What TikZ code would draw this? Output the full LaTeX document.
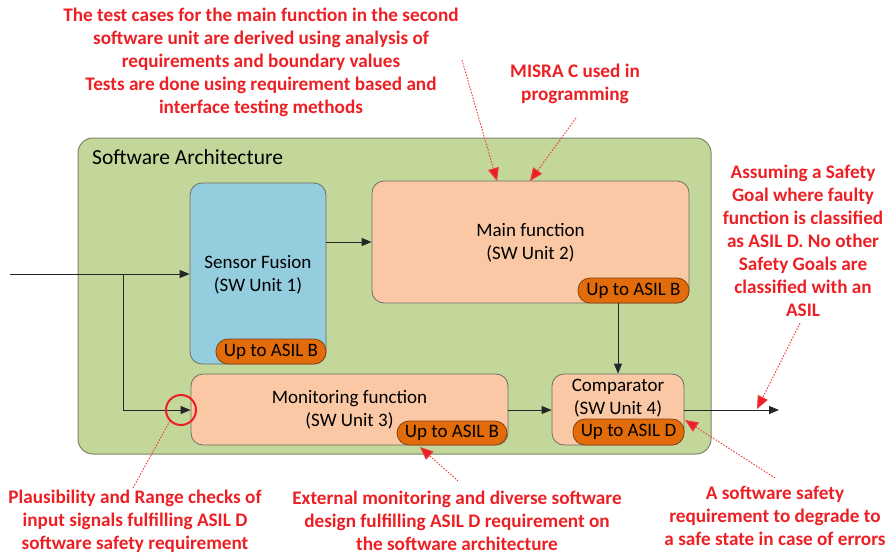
\documentclass[tikz,border=0pt]{standalone}
\usepackage{fontspec}
\setmainfont{Carlito}
\usetikzlibrary{arrows.meta}
\definecolor{cgreen}{RGB}{196,215,155}
\definecolor{cgreenb}{RGB}{120,135,105}
\definecolor{cblue}{RGB}{148,205,221}
\definecolor{cpeach}{RGB}{250,200,164}
\definecolor{cbadge}{RGB}{226,107,10}
\definecolor{cbadgeb}{RGB}{130,65,20}
\definecolor{cboxb}{RGB}{110,110,100}
\definecolor{cred}{RGB}{236,32,36}
\definecolor{cdot}{RGB}{236,60,60}
\tikzset{
  container/.style={draw=cgreenb, fill=cgreen, line width=1pt, rounded corners=15pt, inner sep=0pt},
  unitbox/.style={draw=cboxb, line width=0.8pt, rounded corners=12pt, inner sep=0pt, align=center, font=\fontsize{19}{23.5}\selectfont},
  unitlbl/.style={align=center, inner sep=0pt, font=\fontsize{19}{23}\selectfont},
  badge/.style={draw=cbadgeb, fill=cbadge, line width=0.8pt, rounded corners=12pt, inner sep=0pt, font=\fontsize{19}{20}\selectfont},
  note/.style={text=cred, align=center, font=\bfseries\fontsize{19.2}{23}\selectfont, inner sep=0pt},
  flow/.style={draw=black!85, line width=0.9pt, -{Triangle[length=10pt,width=8pt]}},
  callout/.style={draw=cdot, line width=0.9pt, dash pattern=on 1.6pt off 1.4pt, -{Triangle[length=13pt,width=11pt,fill=cred]}},
  calloutplain/.style={draw=cdot, line width=0.9pt, dash pattern=on 1.6pt off 1.4pt},
}
\begin{document}
\begin{tikzpicture}[x=1pt,y=-1pt]
\useasboundingbox (0,0) rectangle (893,555);
% container
\node[container, minimum width=633pt, minimum height=316pt] (arch) at (394.5,296) {};
\node[anchor=west, inner sep=0pt, font=\fontsize{21.5}{22}\selectfont] (archlbl) at (92,157) {Software Architecture};
% units
\node[unitbox, fill=cblue, minimum width=136pt, minimum height=181pt] (sensor) at (258,273.5) {};
\node[unitlbl] (sensorlbl) at (258,275) {Sensor Fusion\\(SW Unit 1)};
\node[unitbox, fill=cpeach, minimum width=317pt, minimum height=122pt] (main) at (530.5,242) {};
\node[unitlbl] (mainlbl) at (530.5,242.5) {Main function\\(SW Unit 2)};
\node[unitbox, fill=cpeach, minimum width=317pt, minimum height=71pt] (mon) at (349.5,409.5) {};
\node[unitlbl] (monlbl) at (349.5,410) {Monitoring function\\(SW Unit 3)};
\node[unitbox, fill=cpeach, minimum width=132pt, minimum height=71pt] (comp) at (618,409.5) {};
\node[unitlbl] (complbl) at (618,398.5) {Comparator\\(SW Unit 4)};
% badges
\node[badge, minimum width=110pt, minimum height=25pt] (b1) at (271,351.5) {Up to ASIL B};
\node[badge, minimum width=111pt, minimum height=25pt] (b2) at (633.5,290.5) {Up to ASIL B};
\node[badge, minimum width=110pt, minimum height=24pt] (b3) at (452,433) {Up to ASIL B};
\node[badge, minimum width=111pt, minimum height=26pt] (b4) at (628.5,432) {Up to ASIL D};
% flows
\coordinate (in) at (10,274);
\coordinate (split) at (123,274);
\coordinate (out) at (779,410);
\draw[draw=black!85, line width=0.9pt] (in) -- (split);
\draw[flow] (split) -- (sensor.west |- split);
\draw[flow] (split) |- (mon.west |- 0,410);
\draw[flow] (sensor.east |- main.west) -- (main.west);
\draw[flow] (comp.north |- b2.south) -- (comp.north);
\draw[flow] (mon.east |- 0,410) -- (comp.west |- 0,410);
\draw[flow] (comp.east |- 0,410) -- (out);
% red circle
\node[draw=cred, line width=2pt, circle, minimum size=30pt, inner sep=0pt] (ring) at (181,410) {};
% notes
\node[note] (n1) at (261,62) {The test cases for the main function in the second\\software unit are derived using analysis of\\requirements and boundary values\\Tests are done using requirement based and\\interface testing methods};
\node[note] (n2) at (575,84) {MISRA C used in\\programming};
\node[note] (n3) at (803,241) {Assuming a Safety\\Goal where faulty\\function is classified\\as ASIL D. No other\\Safety Goals are\\classified with an\\ASIL};
\node[note] (n4) at (135,521) {Plausibility and Range checks of\\input signals fulfilling ASIL D\\software safety requirement};
\node[note] (n5) at (457,521) {External monitoring and diverse software\\design fulfilling ASIL D requirement on\\the software architecture};
\node[note] (n6) at (775,516) {A software safety\\requirement to degrade to\\a safe state in case of errors};
% callouts
\coordinate (c1s) at (462,60);
\coordinate (c1e) at (497,181);
\coordinate (c2s) at (576,118);
\coordinate (c2e) at (530,181);
\coordinate (c3s) at (800,323);
\coordinate (c3e) at (757,409);
\coordinate (c4s) at (775,478);
\coordinate (c4e) at (685,420);
\coordinate (c5s) at (458,481);
\coordinate (c5e) at (420,447);
\coordinate (c6s) at (133,488);
\draw[callout] (c1s) -- (c1e);
\draw[callout] (c2s) -- (c2e);
\draw[callout] (c3s) -- (c3e);
\draw[callout] (c4s) -- (c4e);
\draw[callout] (c5s) -- (c5e);
\draw[calloutplain] (c6s) -- (ring.south west);
\end{tikzpicture}
\end{document}
